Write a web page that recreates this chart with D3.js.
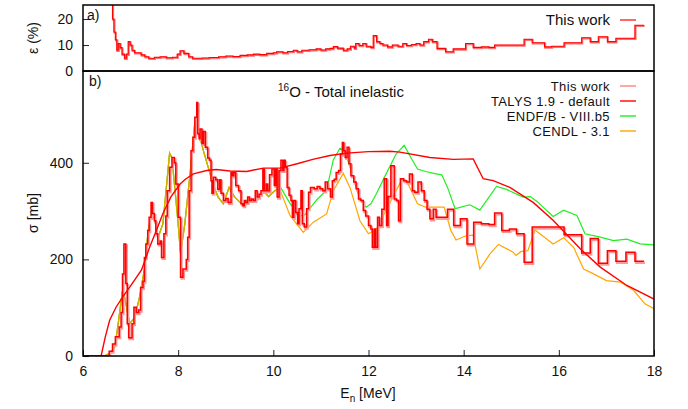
<!DOCTYPE html>
<html><head><meta charset="utf-8">
<script src="https://cdn.jsdelivr.net/npm/d3@7"></script>
<style>
body{margin:0;background:#fff}
text{font-family:"Liberation Sans",Arial,Helvetica,sans-serif;fill:#111}
</style>
</head><body>
<svg id="c" width="688" height="409"></svg>
<script>
// ---------------- data ----------------
const xTicks = [6, 8, 10, 12, 14, 16, 18];
const sigmaTicks = [0, 200, 400];
const epsTicks = [0, 10, 20];
const legendLabels = ["This work", "TALYS 1.9 - default", "ENDF/B - VIII.b5", "CENDL - 3.1"];

// This work: histogram [E left edge, sigma mb]; last entry closes final bin
const thisWork = [
[6.00,0],[6.55,10],[6.62,25],[6.68,40],[6.76,60],[6.80,90],[6.83,170],[6.86,232],[6.90,150],[6.93,67],
[6.96,38],[7.03,67],[7.07,101],[7.12,90],[7.17,95],[7.21,142],[7.26,155],[7.29,204],[7.32,232],[7.36,260],
[7.39,287],[7.43,318],[7.46,295],[7.50,280],[7.53,253],[7.57,232],[7.62,238],[7.65,204],[7.70,253],[7.74,290],
[7.77,342],[7.82,391],[7.87,411],[7.92,400],[7.95,356],[8.00,287],[8.05,163],[8.10,180],[8.17,200],[8.20,246],
[8.23,342],[8.27,425],[8.31,453],[8.35,494],[8.39,525],[8.41,460],[8.44,450],[8.46,470],[8.50,440],[8.53,465],
[8.57,432],[8.62,410],[8.66,405],[8.69,363],[8.71,337],[8.74,370],[8.79,365],[8.83,345],[8.87,365],[8.90,337],
[8.95,322],[9.00,326],[9.05,318],[9.11,380],[9.14,373],[9.17,380],[9.21,353],[9.27,342],[9.32,315],[9.36,311],
[9.39,322],[9.42,318],[9.46,329],[9.50,322],[9.54,325],[9.58,322],[9.62,342],[9.66,329],[9.70,335],[9.74,342],
[9.78,387],[9.81,342],[9.85,356],[9.88,342],[9.92,375],[9.97,387],[10.02,353],[10.05,387],[10.08,329],[10.12,384],
[10.16,405],[10.20,384],[10.22,405],[10.25,390],[10.29,349],[10.33,333],[10.37,322],[10.40,287],[10.43,322],[10.47,297],
[10.51,274],[10.54,305],[10.58,342],[10.61,274],[10.65,267],[10.70,305],[10.74,339],[10.78,349],[10.86,346],[10.92,351],
[10.98,346],[11.04,342],[11.09,360],[11.14,346],[11.20,329],[11.24,363],[11.28,366],[11.32,380],[11.37,384],[11.41,418],
[11.45,442],[11.48,425],[11.51,411],[11.55,432],[11.59,398],[11.63,373],[11.69,360],[11.74,346],[11.79,325],[11.84,322],
[11.89,301],[11.94,290],[12.00,270],[12.05,263],[12.08,225],[12.12,263],[12.15,225],[12.19,287],[12.23,270],[12.28,304],
[12.33,367],[12.38,270],[12.41,330],[12.47,394],[12.54,325],[12.59,322],[12.63,280],[12.67,367],[12.74,363],[12.80,360],
[12.86,377],[12.92,342],[12.97,339],[13.04,360],[13.11,342],[13.17,322],[13.23,304],[13.29,284],[13.36,304],[13.42,287],
[13.66,304],[13.79,270],[13.93,284],[14.07,232],[14.21,277],[14.37,274],[14.53,272],[14.65,296],[14.80,260],[14.96,263],
[15.11,253],[15.27,194],[15.44,267],[16.11,251],[16.48,213],[16.66,243],[16.83,192],[17.02,218],[17.20,196],[17.41,215],
[17.60,196],[17.79,196]
];

// Uncertainty of this work (%), steps [E, eps]
const epsilon = [
[6.57,30],[6.62,20],[6.65,15],[6.68,12],[6.71,8],[6.74,10.6],[6.78,9],[6.82,6.5],[6.87,4.9],[6.91,6.5],
[6.95,11.3],[6.99,10],[7.03,8],[7.08,7],[7.22,6.2],[7.30,5.5],[7.38,4.9],[7.50,5.3],[7.62,5.5],[7.75,5.1],
[7.88,5.3],[7.98,6.5],[8.04,7.8],[8.12,6.8],[8.22,5.5],[8.30,4.9],[8.50,5.0],[8.65,5.2],[8.85,5.5],[9.00,5.8],
[9.15,5.6],[9.30,6.0],[9.45,6.2],[9.58,6.5],[9.72,6.3],[9.86,6.8],[10.00,7.0],[10.07,7.4],[10.20,7.0],[10.30,7.5],
[10.42,8.0],[10.50,7.4],[10.60,8.0],[10.75,8.2],[10.90,8.5],[11.00,8.1],[11.10,8.5],[11.19,8.7],[11.26,9.4],[11.35,8.8],
[11.47,8.0],[11.55,8.5],[11.62,9.5],[11.70,8.8],[11.73,10.6],[11.80,9.8],[11.88,10.6],[11.95,9.5],[12.05,9.1],[12.10,13.6],
[12.17,11.3],[12.24,10.6],[12.30,10.0],[12.40,9.3],[12.50,10.0],[12.62,9.5],[12.72,10.6],[12.80,9.8],[12.90,10.2],[13.00,10.6],
[13.08,10.0],[13.16,11.3],[13.26,12.2],[13.34,11.3],[13.44,8.7],[13.62,7.4],[13.78,8.5],[14.04,10.6],[14.20,9.1],[14.37,9.3],
[14.53,9.1],[14.65,10.0],[15.27,12.2],[15.44,10.9],[15.70,9.3],[15.85,9.5],[16.11,10.9],[16.48,12.8],[16.66,11.3],[16.83,13.2],
[17.02,11.3],[17.20,12.6],[17.60,17.6],[17.79,17.6]
];

// TALYS 1.9 default
const talys = [
[6.0,0],[6.38,0],[6.47,40],[6.56,74],[6.70,102],[6.84,123],[7.0,145],[7.23,178],[7.40,225],[7.55,262],
[7.68,295],[7.85,330],[8.04,356],[8.15,366],[8.32,377],[8.6,384],[8.8,386],[9.09,383],[9.44,382],[9.79,389],
[10.14,389],[10.5,398],[10.83,407],[11.19,415],[11.54,420],[12.0,423],[12.45,424],[12.66,422],[13.29,411],[13.78,407],
[14.2,408],[14.41,367],[14.62,363],[14.97,349],[15.46,318],[15.88,281],[16.45,222],[16.87,184],[17.43,146],[18.0,118]
];

// evaluations: common low-energy part (ENDF and CENDL coincide)
const evalShared = [
[6.0,0],[6.45,0],[6.55,5],[6.62,12],[6.67,19],[6.74,67],[6.83,135],[6.88,120],[6.98,67],[7.09,80],
[7.19,123],[7.30,184],[7.37,260],[7.44,294],[7.50,285],[7.58,246],[7.68,274],[7.82,420],[7.87,410],[8.0,274],
[8.05,212],[8.14,274],[8.25,377],[8.35,484],[8.40,475],[8.53,425],[8.63,391],[8.74,353],[8.84,329],[8.95,315],
[9.07,349],[9.18,330],[9.33,315],[9.37,311],[9.47,325],[9.56,322],[9.65,322],[9.75,335],[9.82,339],[9.90,330],[10.03,342]
];
const endfHigh = [
[10.14,351],[10.35,316],[10.56,290],[10.66,292],[10.91,323],[11.12,344],[11.26,406],[11.40,430],[11.50,425],[11.68,370],
[11.80,330],[11.95,308],[12.05,315],[12.16,335],[12.37,377],[12.58,418],[12.75,436],[12.89,411],[13.03,387],[13.2,382],
[13.42,377],[13.54,375],[13.66,349],[13.82,305],[14.05,311],[14.13,313],[14.34,302],[14.69,351],[14.90,345],[15.25,329],
[15.40,330],[15.54,320],[15.88,289],[16.10,302],[16.38,291],[16.55,253],[16.87,246],[17.15,239],[17.43,242],[17.71,232],[18.0,230]
];
const cendlHigh = [
[10.14,344],[10.35,291],[10.63,256],[10.84,277],[11.12,294],[11.26,342],[11.47,378],[11.61,349],[11.82,280],[12.0,253],
[12.16,262],[12.44,315],[12.70,365],[12.80,363],[12.93,336],[13.03,315],[13.2,308],[13.59,308],[13.73,260],[13.84,240],
[14.05,249],[14.2,250],[14.34,180],[14.55,211],[14.73,231],[15.04,215],[15.10,208],[15.20,216],[15.35,218],[15.50,261],
[15.88,232],[16.10,245],[16.31,225],[16.52,180],[16.73,170],[17.0,156],[17.29,153],[17.57,136],[17.81,108],[18.0,98]
];
const endf = evalShared.concat(endfHigh);
const cendl = evalShared.concat(cendlHigh);

// ---------------- layout ----------------
const svg = d3.select("#c");
const L = 83, R = 654, topA = 5, botA = 71, topB = 71, botB = 356;
const x = d3.scaleLinear().domain([6, 18]).range([L, R]);
const yA = d3.scaleLinear().domain([0, 25.4]).range([botA, topA]);
const yB = d3.scaleLinear().domain([0, 590]).range([botB, topB]);
const FS = 14;
const LFS = 13;

const defs = svg.append("defs");
defs.append("clipPath").attr("id","clipA").append("rect").attr("x",L).attr("y",topA).attr("width",R-L).attr("height",botA-topA);
defs.append("clipPath").attr("id","clipB").append("rect").attr("x",L).attr("y",topB).attr("width",R-L).attr("height",botB-topB);

// axes (ticks inward)
const axB = svg.append("g").attr("transform",`translate(0,${botB})`)
  .call(d3.axisBottom(x).tickValues(xTicks).tickSize(-6).tickPadding(10).tickFormat(d3.format("d")));
const ayB = svg.append("g").attr("transform",`translate(${L},0)`)
  .call(d3.axisLeft(yB).tickValues(sigmaTicks).tickSize(-6).tickPadding(10));
const ayA = svg.append("g").attr("transform",`translate(${L},0)`)
  .call(d3.axisLeft(yA).tickValues(epsTicks).tickSize(-6).tickPadding(10));
[axB, ayB, ayA].forEach(g => {
  g.select(".domain").remove();
  g.selectAll("text").attr("font-size", FS).attr("font-family", "Liberation Sans, Arial, sans-serif").attr("fill","#111");
  g.selectAll("line").attr("stroke","#222");
});

// data lines
const lineB = d3.line().x(d => x(d[0])).y(d => yB(d[1]));
const stepB = d3.line().x(d => x(d[0])).y(d => yB(d[1])).curve(d3.curveStepAfter);
const stepA = d3.line().x(d => x(d[0])).y(d => yA(d[1])).curve(d3.curveStepAfter);

const gA = svg.append("g").attr("clip-path","url(#clipA)");
gA.append("path").datum(epsilon).attr("d", stepA).attr("fill","none")
  .attr("stroke","#ff7070").attr("stroke-width",2).attr("transform","translate(0.6,0.8)");
gA.append("path").datum(epsilon).attr("d", stepA).attr("fill","none")
  .attr("stroke","#ff0000").attr("stroke-width",1.1);

const gB = svg.append("g").attr("clip-path","url(#clipB)");
gB.append("path").datum(endf).attr("d", lineB).attr("fill","none").attr("stroke","#22ee22").attr("stroke-width",1.2);
gB.append("path").datum(cendl).attr("d", lineB).attr("fill","none").attr("stroke","#ffa500").attr("stroke-width",1.2);
gB.append("path").datum(evalShared).attr("d", lineB).attr("fill","none").attr("stroke","#c8b400").attr("stroke-width",1.3);
gB.append("path").datum(thisWork).attr("d", stepB).attr("fill","none")
  .attr("stroke","#ff9a9a").attr("stroke-width",2.2).attr("transform","translate(1,1.5)");
gB.append("path").datum(thisWork).attr("d", stepB).attr("fill","none")
  .attr("stroke","#ff0000").attr("stroke-width",1.5);
gB.append("path").datum(talys).attr("d", lineB).attr("fill","none").attr("stroke","#ff0000").attr("stroke-width",1.4);

// borders
svg.append("rect").attr("x",L).attr("y",topA).attr("width",R-L).attr("height",botA-topA)
  .attr("fill","none").attr("stroke","#000").attr("stroke-width",1.5);
svg.append("rect").attr("x",L).attr("y",topB).attr("width",R-L).attr("height",botB-topB)
  .attr("fill","none").attr("stroke","#000").attr("stroke-width",1.5);

// panel labels
svg.append("text").attr("x",87).attr("y",20).attr("font-size",FS).text("a)");
svg.append("text").attr("x",89).attr("y",86).attr("font-size",FS).text("b)");

// title
const t = svg.append("text").attr("x",341).attr("y",97).attr("text-anchor","middle").attr("font-size",FS+1);
t.append("tspan").attr("font-size",10).attr("dy",-6).text("16");
t.append("tspan").attr("dy",6).text("O - Total inelastic");

// axis labels
svg.append("text").attr("transform","translate(38,38) rotate(-90)").attr("text-anchor","middle").attr("font-size",FS).text("ε (%)");
svg.append("text").attr("transform","translate(38,213) rotate(-90)").attr("text-anchor","middle").attr("font-size",FS).text("σ [mb]");
const xl = svg.append("text").attr("x",368).attr("y",398).attr("text-anchor","middle").attr("font-size",FS);
xl.append("tspan").text("E");
xl.append("tspan").attr("font-size",10).attr("dy",4).text("n");
xl.append("tspan").attr("dy",-4).text(" [MeV]");

// legend top
svg.append("text").attr("x",610).attr("y",25).attr("text-anchor","end").attr("font-size",FS+1).text(legendLabels[0]);
svg.append("line").attr("x1",620).attr("x2",636).attr("y1",20).attr("y2",20).attr("stroke","#ff0000").attr("stroke-width",1.2);

// legend bottom
const legColors = ["#ff8080", "#ff0000", "#22ee22", "#ffa500"];
legendLabels.forEach((lab, i) => {
  const yy = 86 + i * 15;
  svg.append("text").attr("x",610).attr("y",yy+4.5).attr("text-anchor","end").attr("font-size",LFS)
    .attr("letter-spacing",0.4).text(lab);
  svg.append("line").attr("x1",620).attr("x2",636).attr("y1",yy).attr("y2",yy).attr("stroke",legColors[i]).attr("stroke-width",1.4);
});
</script>
</body></html>
